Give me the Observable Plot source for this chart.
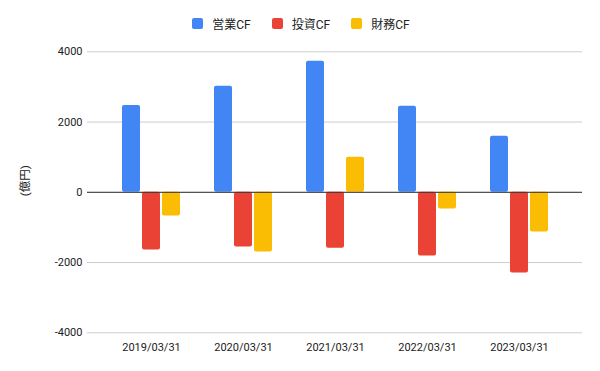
<!DOCTYPE html>
<html><head><meta charset="utf-8">
<script src="https://cdn.jsdelivr.net/npm/d3@7"></script>
<script src="https://cdn.jsdelivr.net/npm/@observablehq/plot@0.6"></script>
<style>
body{margin:0;background:#fff;font-family:Roboto,"Noto Sans CJK JP",sans-serif;}
#legend{height:40px;display:flex;justify-content:center;align-items:center;gap:21px;font-size:12px;color:#222;padding-top:6px;box-sizing:border-box;padding-left:2px}
#legend span{display:inline-flex;align-items:center}
#legend i{display:inline-block;width:11px;height:11px;border-radius:2px;margin-right:9px}
</style></head>
<body><div id="legend"></div><div id="chart"></div>
<script>
const dates = ["2019/03/31","2020/03/31","2021/03/31","2022/03/31","2023/03/31"];
const seriesNames = ["営業CF","投資CF","財務CF"];
const colors = ["#4285F4","#EA4335","#FBBC04"];
const operating = [2470, 3020, 3730, 2450, 1595];
const investing = [-1645, -1560, -1590, -1815, -2300];
const financing = [-675, -1700, 997, -476, -1130];
const yTicks = [-4000,-2000,0,2000,4000];

const values = [operating, investing, financing];

const leg = document.getElementById("legend");
seriesNames.forEach((s,j)=>{
  const sp=document.createElement("span");
  sp.innerHTML=`<i style="background:${colors[j]}"></i>${s}`;
  leg.appendChild(sp);
});

// each series bar occupies one third-ish slot of the group band (bandwidth 58, bar 18, gap 2)
const insets = [[0,40],[20,20],[40,0]];
const barMarks = seriesNames.map((s,j)=>Plot.barY(
  dates.map((d,i)=>({date:d, series:s, value:values[j][i]})),
  {x:"date", y:"value", fill:"series", rx:2, insetLeft:insets[j][0], insetRight:insets[j][1]}
));

const chart = Plot.plot({
  width:600, height:331,
  marginTop:11.3, marginBottom:38.7, marginLeft:87, marginRight:18,
  style:{fontFamily:'Roboto,"Noto Sans CJK JP",sans-serif', fontSize:"11px", color:"#222"},
  x:{domain:dates, paddingInner:0.37, paddingOuter:0.375, label:null},
  y:{domain:[-4000,4000], ticks:yTicks, label:null},
  color:{domain:seriesNames, range:colors},
  marks:[
    Plot.gridY(yTicks,{stroke:"#ccc", strokeOpacity:1, strokeWidth:1}),
    Plot.axisY(yTicks,{tickSize:0, tickPadding:5, label:null, tickFormat:d=>String(d), fill:"#222"}),
    Plot.axisX({tickSize:0, tickPadding:10, label:null, fill:"#222"}),
    ...barMarks,
    Plot.ruleY([0],{stroke:"#333", strokeWidth:1}),
    Plot.text(["(億円)"],{frameAnchor:"left", dx:-62, dy:4, rotate:-90, fontSize:11.5, fill:"#222"})
  ]
});
document.getElementById("chart").appendChild(chart);
</script></body></html>
